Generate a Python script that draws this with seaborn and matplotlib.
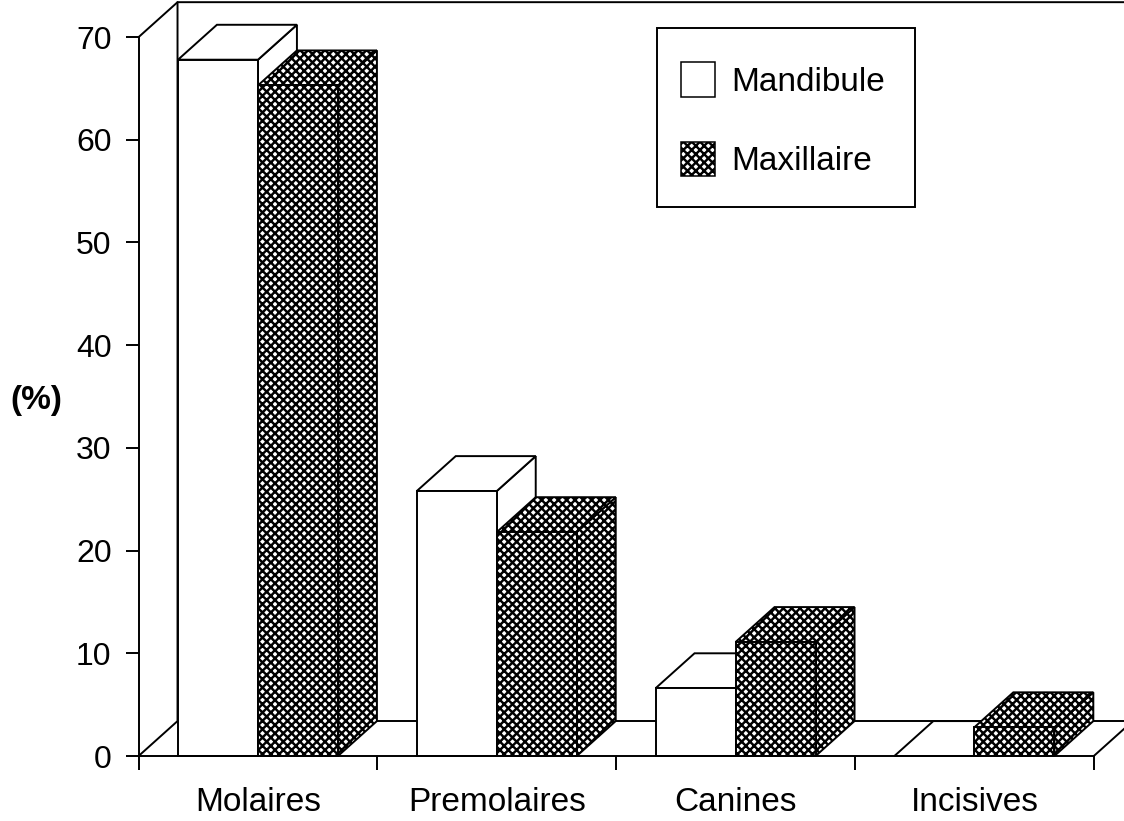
import matplotlib
matplotlib.use("Agg")
import matplotlib.pyplot as plt
from matplotlib.patches import Patch, Polygon, Rectangle
import numpy as np
import pandas as pd
import seaborn as sns

categories = ["Molaires", "Premolaires", "Canines", "Incisives"]
mandibule = [67.8, 25.8, 6.6, 0.0]
maxillaire = [65.3, 21.8, 11.1, 2.8]
series_names = ["Mandibule", "Maxillaire"]
y_ticks = [0, 10, 20, 30, 40, 50, 60, 70]

sns.set_theme(style="white")
plt.rcParams["font.family"] = ["Liberation Sans", "DejaVu Sans"]
plt.rcParams["hatch.linewidth"] = 1.75
plt.rcParams["hatch.color"] = "black"

LW = 1.4
HATCH = "xxxx"
DX, DY = 0.163, 3.4  # oblique depth of the pseudo-3D box

df = pd.DataFrame({
    "cat": categories * 2,
    "val": mandibule + maxillaire,
    "serie": [series_names[0]] * 4 + [series_names[1]] * 4,
})

fig = plt.figure(figsize=(11.24, 8.21), dpi=100, facecolor="white")
ax = fig.add_axes([0, 0, 1, 1])
sns.barplot(data=df, x="cat", y="val", hue="serie", hue_order=series_names,
            palette=["white", "white"], width=0.67, gap=0, legend=False, ax=ax,
            saturation=1, edgecolor="black", linewidth=LW)

xlim = (-258 / 238.8, (1124 - 258) / 238.8)
ylim = (-65 / 10.27, 756 / 10.27)
ax.set_xlim(*xlim)
ax.set_ylim(*ylim)
ax.patch.set_alpha(0)

# pseudo-3D faces built from the bars seaborn drew
for k, cont in enumerate(ax.containers):
    z = 3 + k
    hatch = HATCH if k == 1 else None
    for bar in cont:
        x0, h = bar.get_x(), bar.get_height()
        x1 = x0 + bar.get_width()
        bar.set_zorder(z + 0.2)
        bar.set_hatch(hatch)
        top = Polygon([(x0, h), (x1, h), (x1 + DX, h + DY), (x0 + DX, h + DY)], closed=True,
                      facecolor="white", edgecolor="black", lw=LW, hatch=hatch, zorder=z)
        side = Polygon([(x1, 0), (x1, h), (x1 + DX, h + DY), (x1 + DX, DY)], closed=True,
                       facecolor="white", edgecolor="black", lw=LW, hatch=hatch, zorder=z)
        ax.add_patch(side)
        ax.add_patch(top)

# walls and floor
x_l, x_r = -0.5, 3.5
line = dict(color="black", lw=LW, zorder=1, solid_capstyle="round")
ax.plot([x_l, x_l + DX, x_l + DX], [0, DY, 70 + DY], **line)
ax.plot([x_l, x_l + DX, xlim[1]], [70, 70 + DY, 70 + DY], **line)
ax.plot([x_l + DX, xlim[1]], [DY, DY], **line)
ax.plot([x_r, x_r + DX], [0, DY], **line)

# axes
for s in ["top", "right"]:
    ax.spines[s].set_visible(False)
ax.spines["left"].set_position(("data", x_l))
ax.spines["left"].set_bounds(0, 70)
ax.spines["bottom"].set_position(("data", 0))
ax.spines["bottom"].set_bounds(x_l, x_r)
for s in ["left", "bottom"]:
    ax.spines[s].set_linewidth(LW)
    ax.spines[s].set_color("black")
    ax.spines[s].set_zorder(6)

ax.set_yticks(y_ticks)
ax.set_xticks(range(len(categories)))
ax.set_xticklabels(categories)
ax.set_xticks(np.arange(x_l, x_r + 1), minor=True)
ax.tick_params(axis="y", which="major", left=True, length=9.5, width=LW, pad=10,
               labelsize=23, colors="black")
ax.tick_params(axis="x", which="major", bottom=True, length=0, pad=22, labelsize=24,
               colors="black")
ax.tick_params(axis="x", which="minor", bottom=True, length=10, width=LW, colors="black")
ax.set_xlabel("")
ax.set_ylabel("(%)", rotation=0, fontsize=24, fontweight="bold", color="black",
              ha="center", va="center")
ax.yaxis.set_label_coords(36 / 1124, 1 - 400 / 821)

# legend box
ax.add_patch(Rectangle((657 / 1124, 1 - 207 / 821), 258 / 1124, 179 / 821, transform=ax.transAxes,
                       facecolor="white", edgecolor="black", lw=LW, zorder=8))
handles = [Patch(facecolor="white", edgecolor="black", lw=1.1, label=series_names[0]),
           Patch(facecolor="white", edgecolor="black", lw=1.1, hatch=HATCH, label=series_names[1])]
leg = ax.legend(handles=handles, loc="center left", bbox_to_anchor=(681 / 1124, 1 - 119.5 / 821),
                frameon=False, fontsize=24, handlelength=1.02, handleheight=1.22,
                handletextpad=0.48, labelspacing=1.32, borderpad=0, borderaxespad=0)
leg.set_zorder(9)
for t in leg.get_texts():
    t.set_color("black")

fig.savefig("out.png", dpi=100, facecolor="white")
